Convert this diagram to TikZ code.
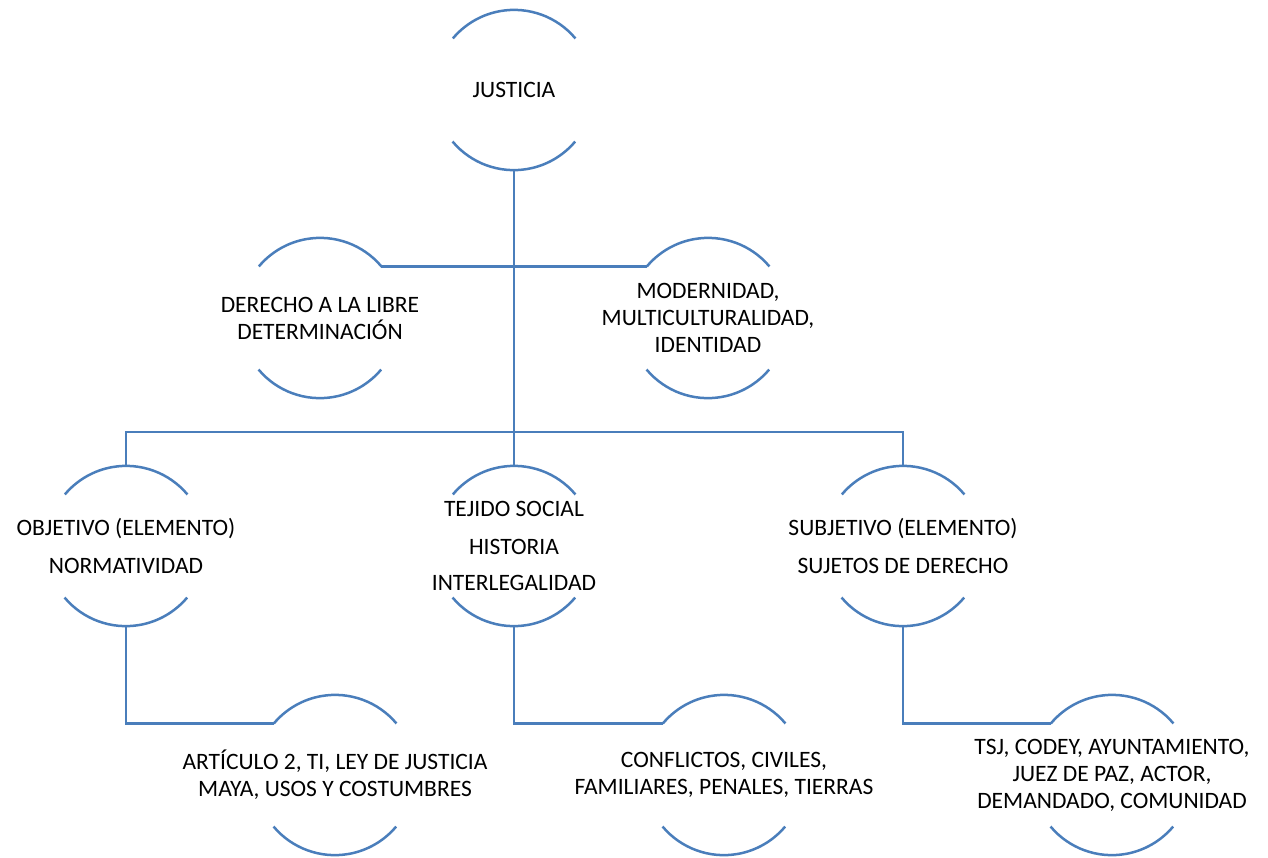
\documentclass[tikz,border=0pt]{standalone}
\usepackage{fontspec}
\setmainfont{Carlito}
\definecolor{linkblue}{HTML}{4A7EBB}
\begin{document}
\begin{tikzpicture}[x=1pt,y=1pt,
  topic/.style={circle,minimum size=160pt,inner sep=0pt,
    label={[font=\fontsize{23.5}{27}\selectfont,align=center,text=black]center:#1}},
  link/.style={draw=linkblue,line width=2.5pt},
  rim/.style={draw=linkblue,line width=2.5pt}]
\useasboundingbox (0,0) rectangle (1268,-857);

% shapes with their captions
\node[topic={JUSTICIA}] (just) at (514,-90) {};
\node[topic={DERECHO A LA LIBRE\\DETERMINACIÓN}] (der) at (320,-318) {};
\node[topic={MODERNIDAD,\\MULTICULTURALIDAD,\\IDENTIDAD}] (mod) at (708,-318) {};
\node[topic={OBJETIVO (ELEMENTO)\\[11pt]NORMATIVIDAD}] (obj) at (126,-546) {};
\node[topic={TEJIDO SOCIAL\\[11pt]HISTORIA\\[9pt]INTERLEGALIDAD}] (tej) at (514,-546) {};
\node[topic={SUBJETIVO (ELEMENTO)\\[11pt]SUJETOS DE DERECHO}] (sub) at (903,-546) {};
\node[topic={ARTÍCULO 2, TI, LEY DE JUSTICIA\\MAYA, USOS Y COSTUMBRES}] (art) at (335,-775) {};
\node[topic={CONFLICTOS, CIVILES,\\FAMILIARES, PENALES, TIERRAS}] (con) at (724,-775) {};
\node[topic={TSJ, CODEY, AYUNTAMIENTO,\\JUEZ DE PAZ, ACTOR,\\DEMANDADO, COMUNIDAD}] (tsj) at (1112,-775) {};

% upper and lower arcs of every shape
\foreach \n in {just,der,mod,obj,tej,sub,art,con,tsj}{
  \draw[rim] (\n.40) arc[start angle=40,end angle=140,radius=80pt];
  \draw[rim] (\n.220) arc[start angle=220,end angle=320,radius=80pt];
}

% connectors
\coordinate (bus) at (514,-432);
\draw[link] (just.south) -- (tej.north);
\draw[link] (der.40) -- (mod.140);
\draw[link] (obj.north) |- (bus) -| (sub.north);
\draw[link] (obj.south) |- (art.140);
\draw[link] (tej.south) |- (con.140);
\draw[link] (sub.south) |- (tsj.140);
\end{tikzpicture}
\end{document}
